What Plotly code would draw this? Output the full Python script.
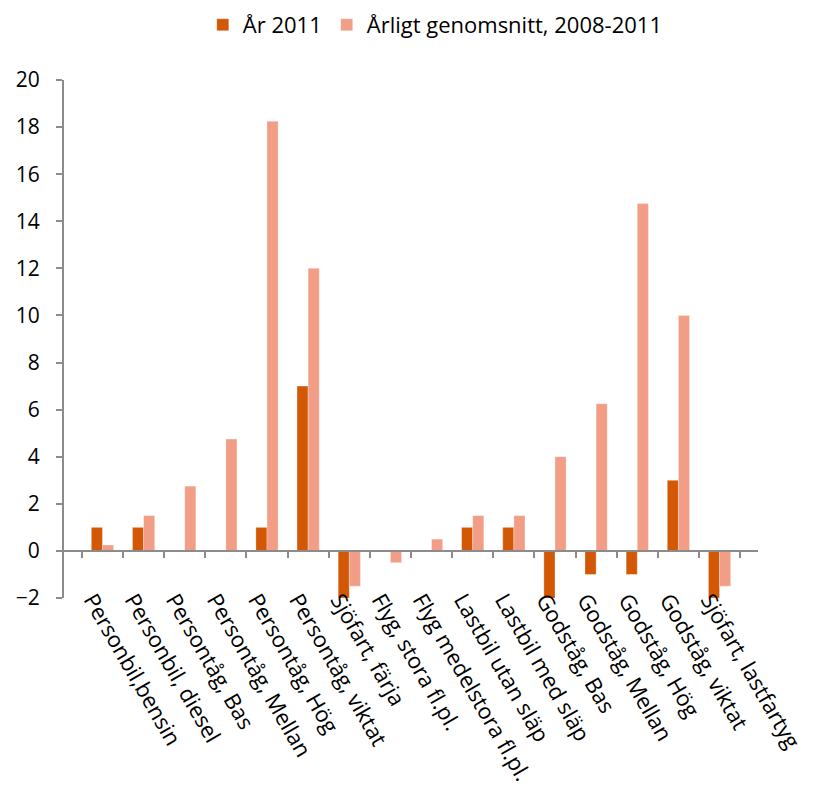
import plotly.graph_objects as go

categories = [
    "Personbil,bensin", "Personbil, diesel", "Persontåg, Bas", "Persontåg, Mellan",
    "Persontåg, Hög", "Persontåg, viktat", "Sjöfart, färja", "Flyg, stora fl.pl.",
    "Flyg medelstora fl.pl.", "Lastbil utan släp", "Lastbil med släp", "Godståg, Bas",
    "Godståg, Mellan", "Godståg, Hög", "Godståg, viktat", "Sjöfart, lastfartyg",
]
ar_2011 = [1, 1, 0, 0, 1, 7, -2, 0, 0, 1, 1, -2.1, -1, -1, 3, -2]
genomsnitt = [0.25, 1.5, 2.75, 4.75, 18.25, 12, -1.5, -0.5, 0.5, 1.5, 1.5, 4, 6.25, 14.75, 10, -1.5]
y_ticks = list(range(-2, 21, 2))

DARK = "#D35806"
LIGHT = "#F29D86"
AXIS = "#8C8C8C"
FONT = "Open Sans"

fig = go.Figure()
fig.add_bar(x=categories, y=ar_2011, name="År 2011", marker_color=DARK, cliponaxis=False,
            marker_line=dict(color="rgba(255,255,255,0.6)", width=0.5))
fig.add_bar(x=categories, y=genomsnitt, name="Årligt genomsnitt, 2008-2011", marker_color=LIGHT,
            cliponaxis=False, marker_line=dict(color="rgba(255,255,255,0.6)", width=0.5))
# invisible trace carrying the category axis drawn along y = 0
fig.add_scatter(x=categories, y=[None] * len(categories), xaxis="x2", showlegend=False,
                hoverinfo="skip")

ymin, ymax = -2, 20
fig.update_layout(
    width=832, height=791,
    margin=dict(l=64, r=74, t=80, b=193),
    paper_bgcolor="white", plot_bgcolor="white",
    font=dict(family=FONT, size=21, color="black"),
    barmode="group", bargap=0.46, bargroupgap=0,
    legend=dict(orientation="h", x=0.535, xanchor="center", y=0.995, yanchor="top",
                yref="container", font=dict(size=22), itemwidth=30, traceorder="normal"),
    xaxis=dict(type="category", tickangle=60, showline=False, ticks="", showgrid=False,
               automargin=False, tickfont=dict(size=22), ticklabelstandoff=-16,
               ticklabelshift=-10),
    xaxis2=dict(type="category", overlaying="x", matches="x", anchor="free",
                position=(0 - ymin) / (ymax - ymin), side="bottom",
                showline=True, linecolor=AXIS, linewidth=2,
                ticks="outside", tickson="boundaries", ticklen=6, tickcolor=AXIS, tickwidth=2,
                showticklabels=False, showgrid=False),
    yaxis=dict(range=[ymin, ymax], tickvals=y_ticks, showline=True, linecolor=AXIS, linewidth=2,
               ticks="outside", ticklen=6, tickcolor=AXIS, tickwidth=2, showgrid=False,
               zeroline=False, automargin=False, tickfont=dict(size=21), ticklabelstandoff=12),
)

fig.write_html("out.html")
